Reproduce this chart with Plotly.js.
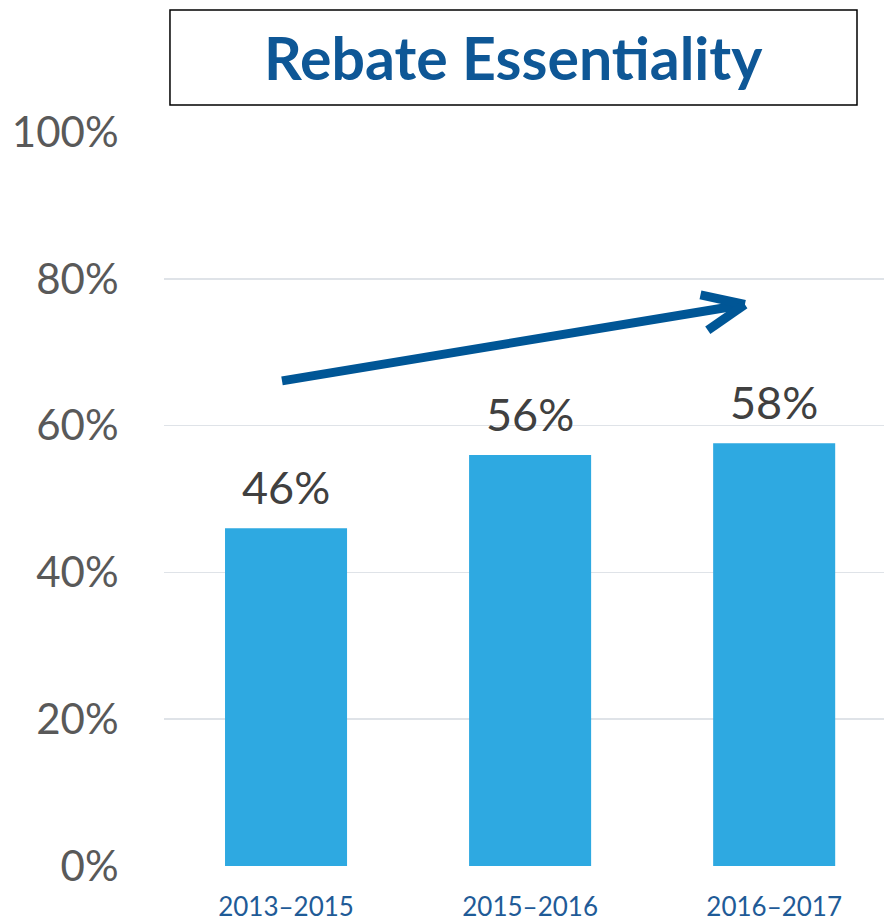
<!DOCTYPE html>
<html>
<head>
<meta charset="utf-8">
<script src="https://cdn.plot.ly/plotly-3.0.1.min.js"></script>
<style>html,body{margin:0;padding:0;background:#fff;}#chart{width:884px;height:922px;}</style>
</head>
<body>
<div id="chart"></div>
<script>
const categories = ["2013–2015", "2015–2016", "2016–2017"];
const values = [46, 56, 57.6];
const yTickVals = [0, 20, 40, 60, 80, 100];
const yTickText = ["0%", "20%", "40%", "60%", "80%", "100%"];
const titleText = "Rebate Essentiality";

const FONT = "Lato, 'Open Sans', sans-serif";

const trace = {
  type: "bar",
  x: [0, 1, 2],
  y: values,
  width: 0.5,
  marker: { color: "#2ea9e1" },
  hoverinfo: "skip"
};

const labelAnns = values.map((v, i) => ({
  x: i, y: v, xref: "x", yref: "y",
  text: Math.round(v) + "%",
  showarrow: false, yanchor: "bottom", yshift: 12,
  font: { family: FONT, size: 45, color: "#404040" }
}));

const layout = {
  width: 884, height: 922,
  margin: { l: 164, r: 0, t: 132, b: 56 },
  paper_bgcolor: "#ffffff", plot_bgcolor: "#ffffff",
  showlegend: false,
  xaxis: {
    range: [-0.5, 2.45],
    tickvals: [0, 1, 2], ticktext: categories,
    showgrid: false, zeroline: false, showline: false,
    ticks: "outside", ticklen: 18, tickcolor: "rgba(0,0,0,0)",
    tickfont: { family: FONT, size: 26, color: "#1f5b97" }
  },
  yaxis: {
    range: [0, 100],
    tickvals: yTickVals, ticktext: yTickText,
    showgrid: true, gridcolor: "#dfe3e8", gridwidth: 1.5,
    zeroline: false, showline: false,
    ticks: "outside", ticklen: 36, tickcolor: "rgba(0,0,0,0)",
    tickfont: { family: FONT, size: 42, color: "#595959" }
  },
  shapes: [
    { type: "rect", xref: "paper", yref: "paper", x0: 0.0083, x1: 0.9625, y0: 1.0368, y1: 1.1662,
      line: { color: "#000000", width: 1.5 }, fillcolor: "rgba(0,0,0,0)", layer: "above" },
    { type: "line", xref: "x", yref: "y", x0: -0.0165, y0: 66.1, x1: 1.88, y1: 76.5,
      line: { color: "#005696", width: 9 } },
    { type: "line", xref: "x", yref: "y", x0: 1.698, y0: 77.8, x1: 1.88, y1: 76.5,
      line: { color: "#005696", width: 9 } },
    { type: "line", xref: "x", yref: "y", x0: 1.728, y0: 73.0, x1: 1.88, y1: 76.5,
      line: { color: "#005696", width: 9 } }
  ],
  annotations: labelAnns.concat([
    { xref: "paper", yref: "paper", x: 0.486, y: 1.102, text: "<b>" + titleText + "</b>",
      showarrow: false, xanchor: "center", yanchor: "middle",
      font: { family: FONT, size: 59, color: "#0e5796" } }
  ])
};

Plotly.newPlot("chart", [trace], layout, { displayModeBar: false, staticPlot: true });
</script>
</body>
</html>
